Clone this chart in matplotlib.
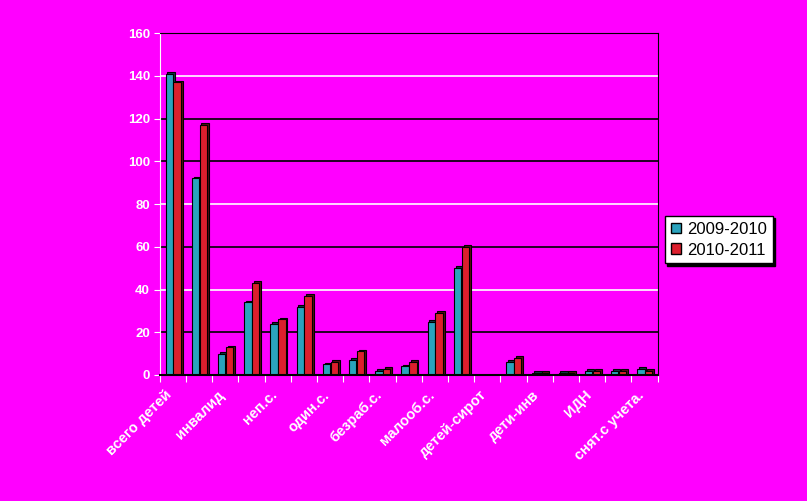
import numpy as np
import matplotlib.pyplot as plt
from matplotlib.patches import Patch

labels = ["всего детей", "инвалид", "неп.с.", "один.с.", "безраб.с.",
          "малооб.с.", "детей-сирот", "дети-инв", "ИДН", "снят.с учета."]
s2009 = [141, 92, 10, 34, 24, 32, 5, 7, 2, 4, 25, 50, 0, 6, 1, 1, 2, 2, 3]
s2010 = [137, 117, 13, 43, 26, 37, 6, 11, 3, 6, 29, 60, 0, 8, 1, 1, 2, 2, 2]
yticks = [0, 20, 40, 60, 80, 100, 120, 140, 160]
grid_colors = ["black", "black", "white", "black", "white", "black", "black", "white", "black"]

bg = "#ff00ff"
cyan = "#2aa3bd"
red = "#dc1f2d"

fig = plt.figure(figsize=(8.07, 5.01), dpi=100, facecolor=bg)
ax = fig.add_axes([0.198, 0.2515, 0.617, 0.6825], facecolor=bg)

x = np.arange(len(s2009))
w = 0.28
dx, dy = 0.07, 0.8

for y, c in zip(yticks[1:], grid_colors[1:]):
    ax.axhline(y, color=c, lw=1.2, zorder=0)

# shadow (depth) bars for a 3D look
ax.bar(x - 0.14 + dx, np.array(s2009) + dy * (np.array(s2009) > 0), w,
       color="#0e3a44", edgecolor="black", lw=0.8, zorder=1)
ax.bar(x + 0.16 + dx, np.array(s2010) + dy * (np.array(s2010) > 0), w,
       color="#5a0a10", edgecolor="black", lw=0.8, zorder=1)
ax.bar(x - 0.14, s2009, w, color=cyan, edgecolor="black", lw=0.8, zorder=2)
ax.bar(x + 0.16, s2010, w, color=red, edgecolor="black", lw=0.8, zorder=2)

ax.set_xlim(-0.5, len(x) - 0.5)
ax.set_ylim(0, 160)
ax.set_yticks(yticks)
ax.set_yticklabels([str(v) for v in yticks], color="white", fontsize=9.5,
                   family="Liberation Sans", fontweight="bold")
ax.set_xticks(np.arange(-0.5, len(x), 1.0))
ax.set_xticklabels([])
ax.tick_params(axis="x", length=5, color="white", direction="out")
ax.tick_params(axis="y", length=4, color="white", pad=3)

# category labels, every other group
for i, lab in zip(x[::2], labels):
    ax.text(i - 0.3, -6, lab, rotation=45, ha="right", va="top",
            rotation_mode="anchor", color="white", fontsize=10.5,
            family="Liberation Sans", fontweight="bold", clip_on=False)

ax.spines["left"].set_color("white")
ax.spines["bottom"].set_color("black")
ax.spines["bottom"].set_linewidth(1.5)
ax.spines["top"].set_color("black")
ax.spines["right"].set_color("black")

handles = [Patch(facecolor=cyan, edgecolor="black", label="2009-2010"),
           Patch(facecolor=red, edgecolor="black", label="2010-2011")]
leg = fig.legend(handles=handles, loc="upper left", bbox_to_anchor=(0.824, 0.569),
                 frameon=True, fancybox=False,
                 shadow={"color": "black", "alpha": 1, "ox": 1.5, "oy": -1.5},
                 prop={"family": "Liberation Sans", "size": 12},
                 handlelength=0.6, handleheight=0.6, handletextpad=0.4,
                 borderpad=0.35, labelspacing=0.35, borderaxespad=0)
leg.get_frame().set_edgecolor("black")
leg.get_frame().set_facecolor("white")

plt.savefig("out.png", dpi=100, facecolor=bg)
